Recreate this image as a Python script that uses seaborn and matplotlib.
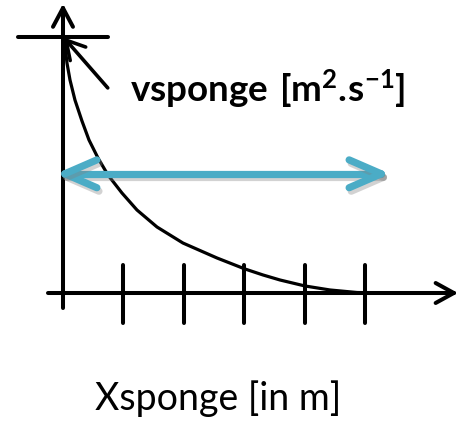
import numpy as np
import pandas as pd
import seaborn as sns
from matplotlib import pyplot as plt
import matplotlib.patheffects as pe

sns.set_style("white")
plt.rcParams['font.family'] = ['Lato', 'DejaVu Sans']
plt.rcParams['text.color'] = 'black'
plt.rcParams['mathtext.fontset'] = 'custom'
plt.rcParams['mathtext.rm'] = 'Lato'
plt.rcParams['mathtext.bf'] = 'Lato:bold'

# sketch units: one unit = distance between two ticks
curve_x = [0.017, 0.033, 0.066, 0.116, 0.198, 0.314, 0.430, 0.579, 0.744, 0.975, 1.223,
           1.554, 1.983, 2.545, 3.008, 3.306, 3.587, 4.000, 4.413, 4.860, 5.240]
curve_y = [4.215, 4.099, 3.802, 3.521, 3.190, 2.843, 2.529, 2.231, 1.950, 1.653, 1.372,
           1.091, 0.826, 0.579, 0.397, 0.298, 0.215, 0.116, 0.050, 0.008, 0.0]
tick_pos = [1, 2, 3, 4, 5]
vsponge_level = 4.23          # value at the boundary (top bar)
sponge_band = [0.03, 5.26]    # extent of the sponge layer (blue arrow)
band_height = 1.97
ylabel_txt = r"$\mathbf{vsponge\ [m^{2}.\!s^{-1}]}$"
xlabel_txt = "Xsponge [in m]"

blue = '#4BACC6'
lw_axis = 2.9

fig = plt.figure(figsize=(4.63, 4.29), dpi=100)
ax = fig.add_axes([0, 0, 1, 1])
ax.set_xlim(-1.041, 6.612)
ax.set_ylim(-2.248, 4.843)
ax.set_aspect('equal')
ax.axis('off')


def chevron(tip, direction, back, half, **kw):
    d = np.array(direction, float)
    d = d / np.hypot(*d)
    p = np.array([-d[1], d[0]])
    tip = np.array(tip, float)
    for s in (1, -1):
        end = tip - back * d + s * half * p
        ax.plot([tip[0], end[0]], [tip[1], end[1]], **kw)


# axes with arrow heads
ax.plot([0, 0], [-0.25, 4.71], color='k', lw=lw_axis)
chevron((0, 4.71), (0, 1), 0.31, 0.165, color='k', lw=lw_axis)
ax.plot([-0.25, 6.46], [0, 0], color='k', lw=lw_axis)
chevron((6.46, 0), (1, 0), 0.30, 0.165, color='k', lw=lw_axis)

# top bar
ax.plot([-0.74, 0.74], [vsponge_level, vsponge_level], color='k', lw=lw_axis)

# ticks
for t in tick_pos:
    ax.plot([t, t], [-0.50, 0.46], color='k', lw=lw_axis)

# decay curve
df = pd.DataFrame({'x': curve_x, 'y': curve_y})
sns.lineplot(data=df, x='x', y='y', ax=ax, color='k', lw=2.3, sort=False,
             solid_joinstyle='round')

# pointer arrow to the top value
start = np.array([0.74, 3.39])
tip = np.array([0.05, 4.18])
ax.plot([start[0], tip[0]], [start[1], tip[1]], color='k', lw=2.6)
chevron(tip, tip - start, 0.30, 0.17, color='k', lw=2.6)

# blue double arrow (sponge width)
shadow = [pe.SimpleLineShadow(offset=(1.5, -2.5), shadow_color='gray', alpha=0.35), pe.Normal()]
kw = dict(color=blue, lw=5.2, solid_capstyle='round', path_effects=shadow)
ax.plot(sponge_band, [band_height, band_height], **kw)
chevron((sponge_band[1], band_height), (1, 0), 0.53, 0.23, **kw)
chevron((sponge_band[0], band_height), (-1, 0), 0.53, 0.23, **kw)

# labels
ax.text(1.107, 3.157, ylabel_txt, fontsize=26.5, ha='left', va='baseline')
ax.text(2.56, -1.93, xlabel_txt, fontsize=27, ha='center', va='baseline')

fig.savefig('out.png', dpi=100)
